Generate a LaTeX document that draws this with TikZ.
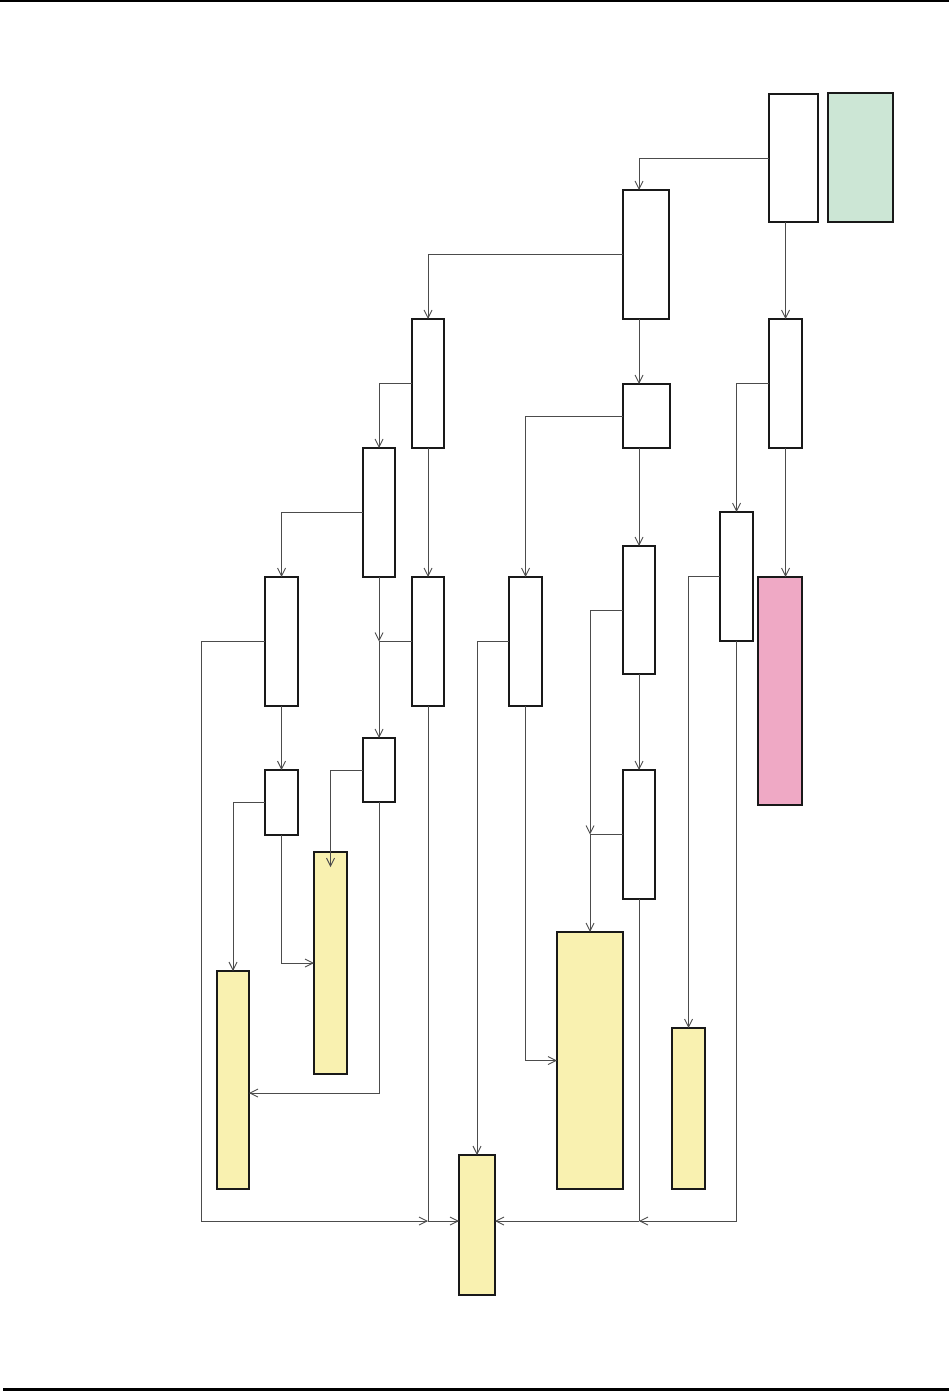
\documentclass[tikz,border=0pt]{standalone}
\usetikzlibrary{arrows.meta}
\definecolor{ylw}{HTML}{F9F1B0}
\definecolor{pnk}{HTML}{EFA9C5}
\definecolor{grn}{HTML}{CCE6D5}
\begin{document}
\begin{tikzpicture}[x=1pt,y=-1pt,
  wb/.style={draw=black!90, line width=1.1pt, fill=white, inner sep=0pt, outer sep=0pt},
  cb/.style={draw=black!90, line width=2pt, inner sep=0pt, outer sep=0pt},
  con/.style={draw=black!70, line width=0.9pt},
  arr/.style={con, -{Straight Barb[length=8pt,width=8pt]}}]
\useasboundingbox (0,0) rectangle (949,1391);
\fill[black] (0,0) rectangle (949,2.3);
\fill[black] (3.3,1388) rectangle (949,1391);
% white boxes
\node[wb, minimum width=49pt, minimum height=128pt] (A) at (793.5,158) {};
\node[wb, minimum width=46pt, minimum height=129pt] (B) at (646,254.5) {};
\node[wb, minimum width=33pt, minimum height=129pt] (C) at (785.5,383.5) {};
\node[wb, minimum width=33pt, minimum height=129pt] (D) at (736.5,576.5) {};
\node[wb, minimum width=32pt, minimum height=129pt] (E) at (428,383.5) {};
\node[wb, minimum width=47pt, minimum height=64pt] (F) at (646.5,416) {};
\node[wb, minimum width=32pt, minimum height=129pt] (G) at (379,512.5) {};
\node[wb, minimum width=32pt, minimum height=129pt] (H) at (428,641.5) {};
\node[wb, minimum width=33pt, minimum height=129pt] (I) at (525.5,641.5) {};
\node[wb, minimum width=32pt, minimum height=128pt] (J) at (639,610) {};
\node[wb, minimum width=32pt, minimum height=129pt] (K) at (639,834.5) {};
\node[wb, minimum width=33pt, minimum height=129pt] (L) at (281.5,641.5) {};
\node[wb, minimum width=32pt, minimum height=64pt] (M) at (379,770) {};
\node[wb, minimum width=33pt, minimum height=65pt] (N) at (281.5,802.5) {};
% coloured boxes
\node[cb, fill=grn, minimum width=65pt, minimum height=129pt] (Gr) at (860.5,157.5) {};
\node[cb, fill=pnk, minimum width=44pt, minimum height=228pt] (P) at (780,691) {};
\node[cb, fill=ylw, minimum width=32pt, minimum height=218pt] (Y1) at (233,1080) {};
\node[cb, fill=ylw, minimum width=33pt, minimum height=222pt] (Y2) at (330.5,963) {};
\node[cb, fill=ylw, minimum width=66pt, minimum height=257pt] (Y4) at (590,1060.5) {};
\node[cb, fill=ylw, minimum width=33pt, minimum height=161pt] (Y5) at (688.5,1108.5) {};
\node[cb, fill=ylw, minimum width=36pt, minimum height=140pt] (Z) at (477,1225) {};
% helper coordinates
\coordinate (zr) at ([yshift=4pt]Z.east);
\coordinate (zl) at ([yshift=4pt]Z.west);
\coordinate (busR) at (zr -| J.south);
\coordinate (busL) at (zl -| H.south);
\coordinate (lc) at ([xshift=-63.5pt]L.west);
\coordinate (jk) at (K.west -| Y4.north);
\coordinate (gh) at (H.west -| G.south);
% connectors
\draw[arr] (A.west) -| ([xshift=-7pt]B.north);
\draw[arr] (C.north |- A.south) -- (C.north);
\draw[arr] (B.west) -| (E.north);
\draw[arr] (J.north |- B.south) -- (J.north |- F.north);
\draw[arr] (C.west) -| (D.north);
\draw[arr] (C.south) -- (C.south |- P.north);
\draw[arr] (E.west) -| (G.north);
\draw[arr] (E.south) -- (H.north);
\draw[arr] (F.west) -| (I.north);
\draw[arr] (J.north |- F.south) -- (J.north);
\draw[arr] (J.south) -- (K.north);
\draw[arr] (D.west) -| (Y5.north);
\draw[arr] (D.south) |- (busR);
\draw[con] (K.south) -- (busR);
\draw[arr] (busR) -- (zr);
\draw[con] (H.south) -- (busL);
\draw[arr] (busL) -- (zl);
\draw[arr] (L.west) -- (lc) |- (busL);
\draw[arr] (J.west) -| (jk);
\draw[con] (K.west) -- (jk);
\draw[arr] (jk) -- (Y4.north);
\draw[arr] (G.south) -- (gh);
\draw[con] (H.west) -- (gh);
\draw[arr] (gh) -- (M.north);
\draw[arr] (G.west) -| (L.north);
\draw[arr] (L.south) -- (N.north);
\draw[arr] (N.west) -| (Y1.north);
\draw[arr] (N.south) |- (Y2.west);
\draw[arr] (M.west) -| ([yshift=-15pt]Y2.north);
\draw[arr] (M.south) |- ([yshift=-13pt]Y1.east);
\draw[arr] (I.west) -| (Z.north);
\draw[arr] (I.south) |- (Y4.west);
\end{tikzpicture}
\end{document}
